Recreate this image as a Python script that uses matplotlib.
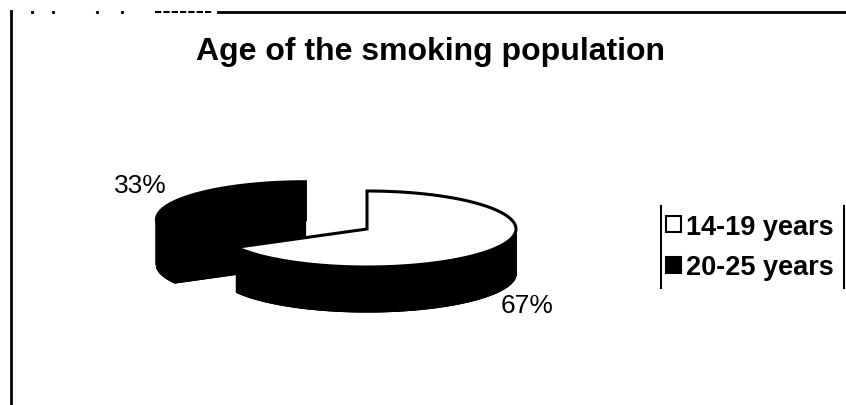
import numpy as np
import matplotlib.pyplot as plt
from matplotlib.patches import Polygon, Patch
from matplotlib.collections import PolyCollection

# Chart data
title = "Age of the smoking population"
groups = ["14-19 years", "20-25 years"]
shares = [67, 33]
face_colors = ["white", "black"]
explode = [0.0, 0.48]

# Drawing canvas in pixel units (y grows downwards)
fig = plt.figure(figsize=(8.46, 4.06), dpi=100)
ax = fig.add_axes([0, 0, 1, 1])
ax.set_xlim(0, 846)
ax.set_ylim(406, 0)
ax.axis("off")

# 3D pie geometry
cx, cy = 367, 230
rx, ry = 149, 38
depth = 45


def ring(ox, oy, t, z=0):
    return np.column_stack([ox + rx * np.cos(t), oy - ry * np.sin(t) + z])


slices = []
start = 90.0
for share, fc, ex in zip(shares, face_colors, explode):
    a0 = np.radians(start)
    a1 = np.radians(start - share * 3.6)
    mid = (a0 + a1) / 2
    ox = cx + ex * rx * np.cos(mid)
    oy = cy - ex * ry * np.sin(mid)
    slices.append((a0, a1, ox, oy, fc))
    start -= share * 3.6

# exploded slice sits behind, so draw it first
for a0, a1, ox, oy, fc in sorted(slices, key=lambda s: s[4] == "white"):
    t = np.linspace(a0, a1, 240)
    top = ring(ox, oy, t)
    bottom = ring(ox, oy, t, depth)
    centre = np.array([ox, oy])
    centre_b = np.array([ox, oy + depth])

    # body of the slice: outer wall strips, radial walls, bottom face
    quads = [[top[i], top[i + 1], bottom[i + 1], bottom[i]]
             for i in range(len(t) - 1)]
    quads.append([centre, top[0], bottom[0], centre_b])
    quads.append([centre, top[-1], bottom[-1], centre_b])
    ax.add_collection(PolyCollection(quads, facecolors="black",
                                     edgecolors="black", linewidths=0.8))
    ax.add_patch(Polygon(np.vstack([centre_b, bottom]), closed=True,
                         facecolor="black", edgecolor="black", linewidth=0.8))

    # top face
    ax.add_patch(Polygon(np.vstack([centre, top]), closed=True, facecolor=fc,
                         edgecolor="black", linewidth=2.2, joinstyle="miter"))

# percentage labels
label_xy = [(527, 306), (140, 186)]
for share, (lx, ly) in zip(shares, label_xy):
    ax.text(lx, ly, f"{share}%", ha="center", va="center",
            fontsize=19, family="Liberation Sans")

ax.text(430, 52, title, ha="center", va="center", fontsize=23,
        fontweight="bold", family="Liberation Sans")

# legend
handles = [Patch(facecolor=fc, edgecolor="black", linewidth=1.5)
           for fc in face_colors]
leg = ax.legend(handles, groups, loc="center left",
                bbox_to_anchor=(666 / 846, 1 - 248 / 406),
                frameon=False, handlelength=0.55, handleheight=0.55,
                handletextpad=0.2, labelspacing=0.55, borderpad=0,
                borderaxespad=0,
                prop={"family": "Liberation Sans", "weight": "bold",
                      "size": 19.5})
ax.plot([661, 661], [207, 289], color="black", lw=1.5)
ax.plot([844, 844], [207, 289], color="black", lw=1.5)

# outer frame
ax.plot([11, 11], [12, 406], color="black", lw=2)
ax.plot([155, 212], [13, 13], color="black", lw=1.5, ls=(0, (3, 1)))
ax.plot([218, 846], [13, 13], color="black", lw=2)
ax.plot([32, 53, 97, 122], [13] * 4, "s", color="black", ms=1.2)

plt.savefig("out.png", dpi=100)
